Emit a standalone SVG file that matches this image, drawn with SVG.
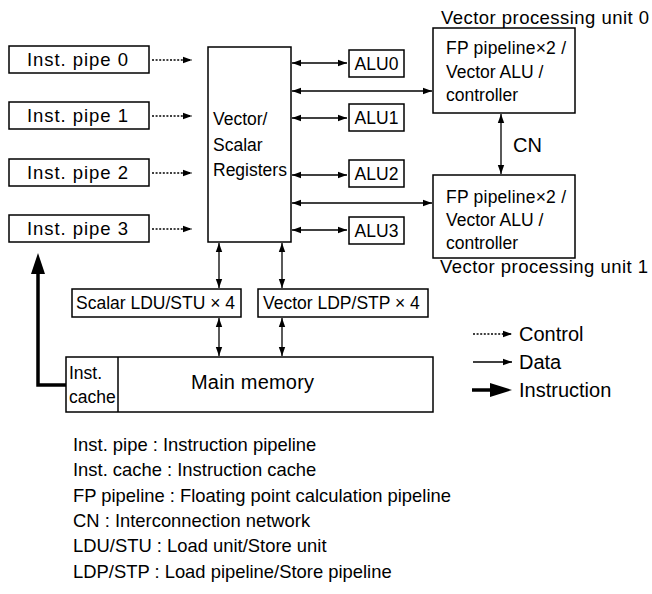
<svg xmlns="http://www.w3.org/2000/svg" width="652" height="594" viewBox="0 0 652 594">
<defs>
<style>
text{font-family:"Liberation Sans",Arial,sans-serif;font-size:17.5px;fill:#000}
.box{fill:#fff;stroke:#000;stroke-width:1.5}
.data{fill:none;stroke:#000;stroke-width:1.3}
.ctrl{fill:none;stroke:#000;stroke-width:1.5;stroke-dasharray:2 1.6}
.inst{fill:none;stroke:#000;stroke-width:3.5}
.mid{text-anchor:middle}
.pipe{font-size:18.5px}
.big{font-size:20px}
.note{font-size:18.4px}
</style>
<marker id="ah" markerWidth="10" markerHeight="8" refX="9" refY="4" orient="auto-start-reverse" markerUnits="userSpaceOnUse">
<path d="M0,0.8 L9,4 L0,7.2 Z" fill="#000"/>
</marker>
</defs>

<g id="pipe0"><rect class="box" x="9" y="46" width="140" height="27"/><text class="pipe" x="27" y="66" textLength="101" lengthAdjust="spacing">Inst. pipe 0</text></g>
<g id="pipe1"><rect class="box" x="9" y="102" width="140" height="27"/><text class="pipe" x="27" y="122" textLength="101" lengthAdjust="spacing">Inst. pipe 1</text></g>
<g id="pipe2"><rect class="box" x="9" y="159" width="140" height="27"/><text class="pipe" x="27" y="179" textLength="101" lengthAdjust="spacing">Inst. pipe 2</text></g>
<g id="pipe3"><rect class="box" x="9" y="215" width="140" height="27"/><text class="pipe" x="27" y="235" textLength="101" lengthAdjust="spacing">Inst. pipe 3</text></g>

<g id="registers"><rect class="box" x="208" y="47" width="83" height="195"/>
<text x="213" y="125">Vector/</text><text x="213" y="151">Scalar</text><text x="213" y="176">Registers</text></g>

<g id="alu0"><rect class="box" x="349" y="50" width="55" height="27"/><text class="mid" x="376.5" y="70">ALU0</text></g>
<g id="alu1"><rect class="box" x="349" y="104" width="55" height="27"/><text class="mid" x="376.5" y="124">ALU1</text></g>
<g id="alu2"><rect class="box" x="349" y="160" width="55" height="27"/><text class="mid" x="376.5" y="180">ALU2</text></g>
<g id="alu3"><rect class="box" x="349" y="217" width="55" height="27"/><text class="mid" x="376.5" y="237">ALU3</text></g>

<g id="vpu0"><rect class="box" x="433" y="28" width="142" height="85"/>
<text x="446" y="54" textLength="120" lengthAdjust="spacing">FP pipeline×2 /</text><text x="446" y="78">Vector ALU /</text><text x="446" y="101">controller</text>
<text class="pipe" x="441" y="24" textLength="208" lengthAdjust="spacing">Vector processing unit 0</text></g>
<g id="vpu1"><rect class="box" x="433" y="175" width="142" height="83"/>
<text x="446" y="203" textLength="120" lengthAdjust="spacing">FP pipeline×2 /</text><text x="446" y="226">Vector ALU /</text><text x="446" y="249">controller</text>
<text class="pipe" x="440" y="273" textLength="208" lengthAdjust="spacing">Vector processing unit 1</text></g>

<g id="scalar-ldu"><rect class="box" x="72" y="289" width="169" height="28"/><text x="76" y="309">Scalar LDU/STU × 4</text></g>
<g id="vector-ldp"><rect class="box" x="258" y="289" width="170" height="28"/><text x="263" y="309">Vector LDP/STP × 4</text></g>

<g id="memory"><rect class="box" x="66" y="357" width="367" height="55"/><line x1="118" y1="357" x2="118" y2="412" stroke="#000" stroke-width="1.5"/>
<text x="69" y="379">Inst.</text><text x="69" y="403">cache</text>
<text class="big" x="191" y="389" textLength="123" lengthAdjust="spacing">Main memory</text></g>

<g id="connectors">
<line class="ctrl" x1="152" y1="60" x2="192" y2="60" marker-end="url(#ah)"/>
<line class="ctrl" x1="152" y1="116" x2="192" y2="116" marker-end="url(#ah)"/>
<line class="ctrl" x1="152" y1="173" x2="192" y2="173" marker-end="url(#ah)"/>
<line class="ctrl" x1="152" y1="229" x2="192" y2="229" marker-end="url(#ah)"/>
<line class="data" x1="292" y1="63" x2="347" y2="63" marker-start="url(#ah)" marker-end="url(#ah)"/>
<line class="data" x1="292" y1="91" x2="432" y2="91" marker-start="url(#ah)" marker-end="url(#ah)"/>
<line class="data" x1="292" y1="118" x2="347" y2="118" marker-start="url(#ah)" marker-end="url(#ah)"/>
<line class="data" x1="292" y1="175" x2="347" y2="175" marker-start="url(#ah)" marker-end="url(#ah)"/>
<line class="data" x1="292" y1="203" x2="432" y2="203" marker-start="url(#ah)" marker-end="url(#ah)"/>
<line class="data" x1="292" y1="230" x2="347" y2="230" marker-start="url(#ah)" marker-end="url(#ah)"/>
<line class="data" x1="501" y1="114" x2="501" y2="174" stroke-width="2.2" marker-start="url(#ah)" marker-end="url(#ah)"/>
<line class="data" x1="219" y1="243" x2="219" y2="288" marker-start="url(#ah)" marker-end="url(#ah)"/>
<line class="data" x1="282" y1="243" x2="282" y2="288" marker-start="url(#ah)" marker-end="url(#ah)"/>
<line class="data" x1="219" y1="318" x2="219" y2="356" marker-start="url(#ah)" marker-end="url(#ah)"/>
<line class="data" x1="282" y1="318" x2="282" y2="356" marker-start="url(#ah)" marker-end="url(#ah)"/>
<path class="inst" d="M66,385 H38 V274"/>
<path d="M38,253 L45,274 L31,274 Z" fill="#000"/>
</g>
<text class="big" x="513" y="152">CN</text>

<g id="legend">
<line class="ctrl" x1="473" y1="334" x2="512" y2="334" marker-end="url(#ah)"/>
<text class="big" x="519" y="341">Control</text>
<line class="data" x1="473" y1="362" x2="512" y2="362" marker-end="url(#ah)"/>
<text class="big" x="519" y="369">Data</text>
<line class="inst" x1="472" y1="390" x2="498" y2="390"/>
<path d="M512,390 L490,383 L490,397 Z" fill="#000"/>
<text class="big" x="519" y="397">Instruction</text>
</g>

<g id="notes" class="note">
<text class="note" x="73" y="451">Inst. pipe : Instruction pipeline</text>
<text class="note" x="73" y="476">Inst. cache : Instruction cache</text>
<text class="note" x="73" y="502">FP pipeline : Floating point calculation pipeline</text>
<text class="note" x="73" y="527">CN : Interconnection network</text>
<text class="note" x="73" y="552">LDU/STU : Load unit/Store unit</text>
<text class="note" x="73" y="578">LDP/STP : Load pipeline/Store pipeline</text>
</g>
</svg>
